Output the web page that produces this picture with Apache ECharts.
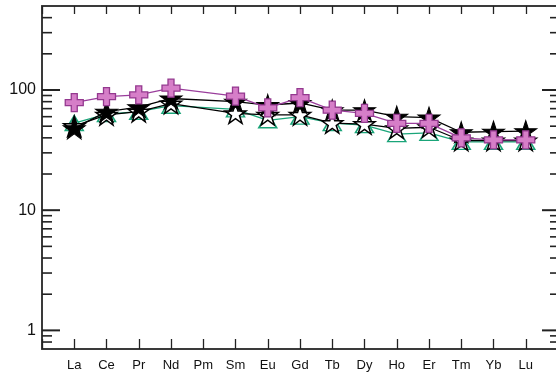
<!DOCTYPE html>
<html><head><meta charset="utf-8">
<script src="https://cdn.jsdelivr.net/npm/echarts@6/dist/echarts.min.js"></script>
<style>html,body{margin:0;padding:0;background:#fff}#c{width:556px;height:376px}</style>
</head><body><div id="c"></div>
<script>
var elements = ['La','Ce','Pr','Nd','Pm','Sm','Eu','Gd','Tb','Dy','Ho','Er','Tm','Yb','Lu'];
var pinkCross   = [78.5, 88, 91, 103.5, null, 89, 71, 86.5, 68, 64, 52.7, 52.7, 40, 38.5, 38.5];
var filledStar  = [48, 66, 72, 85, null, 80, 75, 78, 68, 68, 60, 59, 44.5, 45, 45.5];
var hollowStar  = [50, 62, 66, 77, null, 64, 62, 62, 53, 52, 48, 49, 38, 38, 38];
var greenTri    = [53, 63, 66, 74, null, 69, 56, 60, 53, 51, 43, 44, 37, 37, 37];
var yMajorTicks = [1, 10, 100];
var yMinorTicks = [0.8, 0.9, 2, 3, 4, 5, 6, 7, 8, 9, 20, 30, 40, 50, 60, 70, 80, 90, 200, 300, 400];

var STAR = 'path://M0,-1L0.2245,-0.309L0.951,-0.309L0.363,0.118L0.588,0.809L0,0.382L-0.588,0.809L-0.363,0.118L-0.951,-0.309L-0.2245,-0.309Z';
var PLUS = 'path://M1,0H2V1H3V2H2V3H1V2H0V1H1Z';

function pairs(arr){ return arr.map(function(v,i){ return [i+1, v]; }); }

var chart = echarts.init(document.getElementById('c'), null, {renderer:'canvas'});
var axisCol = '#3a3a3a';
var font = 'Liberation Sans, Arial, sans-serif';
chart.setOption({
  animation:false,
  grid:{left:42, top:6, width:516, bottom:27, outerBoundsMode:'none', containLabel:false},
  xAxis:[{
    type:'value', min:0, max:16, interval:1, position:'bottom',
    axisLine:{show:true, lineStyle:{color:axisCol, width:2}},
    axisTick:{show:true, inside:true, length:10, lineStyle:{color:'#222', width:1.3}},
    axisLabel:{show:true, margin:10, fontSize:13, color:'#111', fontFamily:font,
      formatter:function(v){ return (v>=1 && v<=15) ? elements[v-1] : ''; }},
    splitLine:{show:false}
  },{
    type:'value', min:0, max:16, interval:1, position:'top',
    axisLine:{show:true, onZero:false, lineStyle:{color:axisCol, width:2}},
    axisTick:{show:true, inside:true, length:8, lineStyle:{color:'#222', width:1.3}},
    axisLabel:{show:false}, splitLine:{show:false}
  }],
  yAxis:[{
    type:'log', logBase:10, min:0.7, max:500, position:'left',
    axisLine:{show:true, onZero:false, lineStyle:{color:axisCol, width:2}},
    axisTick:{show:false},
    axisLabel:{show:true, showMinLabel:false, showMaxLabel:false, fontSize:16, margin:6, color:'#111', fontFamily:font},
    splitLine:{show:false}
  },{
    type:'log', logBase:10, min:0.7, max:500, position:'right',
    axisLine:{show:true, onZero:false, lineStyle:{color:axisCol, width:2}},
    axisTick:{show:false}, axisLabel:{show:false}, splitLine:{show:false}
  }],
  series:[
    {
      type:'custom', silent:true, z:1,
      data: yMajorTicks.map(function(v){return [v,1];}).concat(yMinorTicks.map(function(v){return [v,0];})),
      renderItem:function(params, api){
        var v = api.value(0), major = api.value(1);
        var l = api.coord([0, v]), r = api.coord([16, v]);
        var ll = major ? 18 : 10, rl = major ? 16 : 8;
        var st = {stroke:'#222', lineWidth:major?2:1.6};
        return {type:'group', children:[
          {type:'line', shape:{x1:l[0], y1:l[1], x2:l[0]+ll, y2:l[1]}, style:st},
          {type:'line', shape:{x1:r[0]-rl, y1:r[1], x2:r[0], y2:r[1]}, style:st}
        ]};
      }
    },
    {
      name:'green', type:'line', data:pairs(greenTri), connectNulls:true, z:3,
      lineStyle:{color:'#1aa579', width:1.3},
      symbol:'triangle', symbolSize:[18,15],
      itemStyle:{color:'#ffffff', borderColor:'#1aa579', borderWidth:1.5}
    },
    {
      name:'hollow', type:'line', data:pairs(hollowStar), connectNulls:true, z:4,
      lineStyle:{color:'#000', width:1.3},
      symbol:STAR, symbolSize:[21,20],
      itemStyle:{color:'#ffffff', borderColor:'#000', borderWidth:1.5}
    },
    {
      name:'filled', type:'line', data:pairs(filledStar), connectNulls:true, z:5,
      lineStyle:{color:'#000', width:1.3},
      symbol:STAR, symbolSize:[22,21],
      itemStyle:{color:'#000', borderColor:'#000', borderWidth:1}
    },
    {
      name:'pink', type:'line', data:pairs(pinkCross), connectNulls:true, z:6,
      lineStyle:{color:'#9a3e9c', width:1.3},
      symbol:PLUS, symbolSize:18,
      itemStyle:{color:'#d67ec8', borderColor:'#94398f', borderWidth:1.3}
    }
  ]
});
</script></body></html>
